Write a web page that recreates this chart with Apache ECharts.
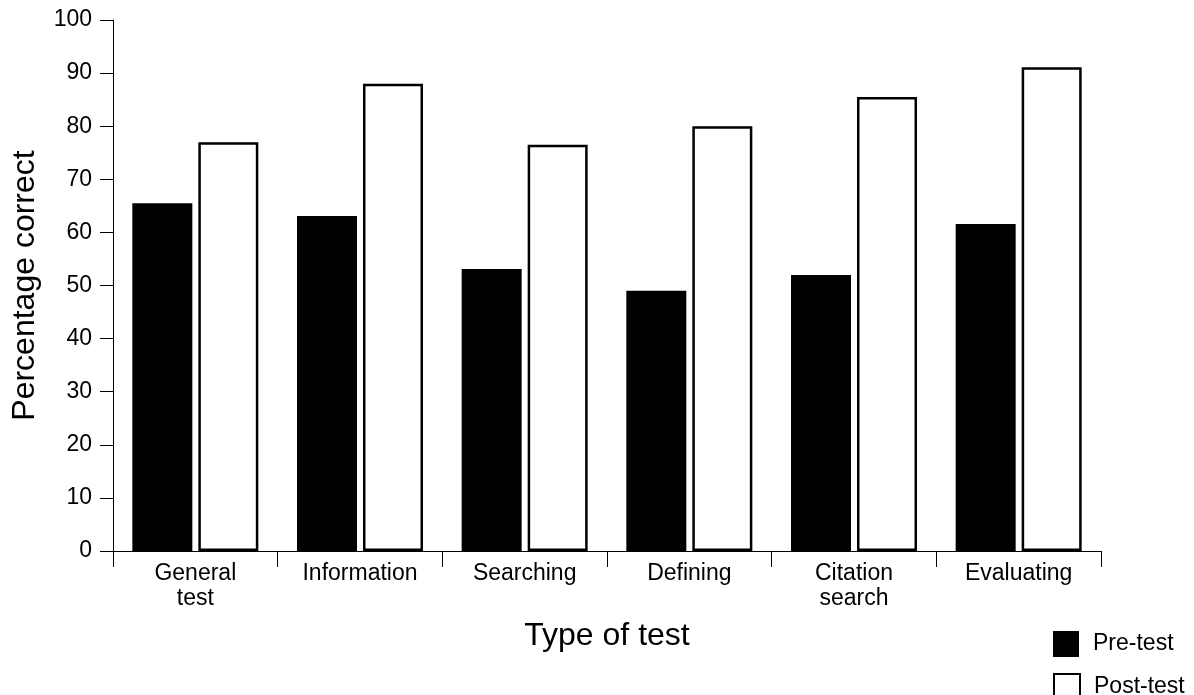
<!DOCTYPE html>
<html>
<head>
<meta charset="utf-8">
<script src="https://cdn.jsdelivr.net/npm/echarts@6/dist/echarts.min.js"></script>
<style>
html,body{margin:0;padding:0;background:#fff;}
#chart{width:1194px;height:695px;}
</style>
</head>
<body>
<div id="chart"></div>
<script>
const categories = ['General\ntest', 'Information', 'Searching', 'Defining', 'Citation\nsearch', 'Evaluating'];
const preTest = [65.5, 63.1, 53.1, 49.0, 52.0, 61.6];
const postTest = [77.0, 88.0, 76.5, 80.0, 85.5, 91.1];
const yTicks = { min: 0, max: 100, interval: 10 };

const FONT = '"Liberation Sans", Arial, Helvetica, sans-serif';
const legendBase = {
  orient: 'vertical',
  left: 1053,
  itemWidth: 26,
  itemHeight: 26,
  icon: 'rect',
  padding: 0,
  textStyle: { fontFamily: FONT, fontSize: 23, color: '#000', padding: [0, 0, 0, 9] }
};
const chart = echarts.init(document.getElementById('chart'), null, { renderer: 'canvas' });
chart.setOption({
  animation: false,
  backgroundColor: '#fff',
  textStyle: { fontFamily: FONT, color: '#000' },
  grid: { left: 113, right: 93, top: 20, bottom: 144, containLabel: false },
  legend: [
    Object.assign({}, legendBase, { top: 631, data: ['Pre-test'] }),
    Object.assign({}, legendBase, { top: 673, data: ['Post-test'] })
  ],
  xAxis: {
    type: 'category',
    data: categories,
    boundaryGap: true,
    name: 'Type of test',
    nameLocation: 'middle',
    nameGap: 69,
    nameTextStyle: { fontFamily: FONT, fontSize: 32, color: '#000' },
    axisLine: { lineStyle: { color: '#000', width: 1 } },
    axisTick: { show: true, length: 16, inside: false, alignWithLabel: false, lineStyle: { color: '#000', width: 1 } },
    axisLabel: { fontFamily: FONT, fontSize: 23, color: '#000', margin: 10, lineHeight: 25, interval: 0 },
    splitLine: { show: false }
  },
  yAxis: {
    type: 'value',
    min: yTicks.min,
    max: yTicks.max,
    interval: yTicks.interval,
    name: 'Percentage correct',
    nameLocation: 'middle',
    nameGap: 72,
    nameTextStyle: { fontFamily: FONT, fontSize: 32, color: '#000' },
    axisLine: { show: true, lineStyle: { color: '#000', width: 1 } },
    axisTick: { show: true, length: 13, inside: false, lineStyle: { color: '#000', width: 1 } },
    axisLabel: { fontFamily: FONT, fontSize: 23, color: '#000', margin: 21 },
    splitLine: { show: false }
  },
  series: [
    {
      name: 'Pre-test',
      type: 'bar',
      data: preTest,
      barWidth: 60,
      barGap: '10%',
      itemStyle: { color: '#000' }
    },
    {
      name: 'Post-test',
      type: 'bar',
      data: postTest,
      barWidth: 60,
      barGap: '10%',
      itemStyle: { color: '#fff', borderColor: '#000', borderWidth: 2.5 }
    }
  ]
});
</script>
</body>
</html>
